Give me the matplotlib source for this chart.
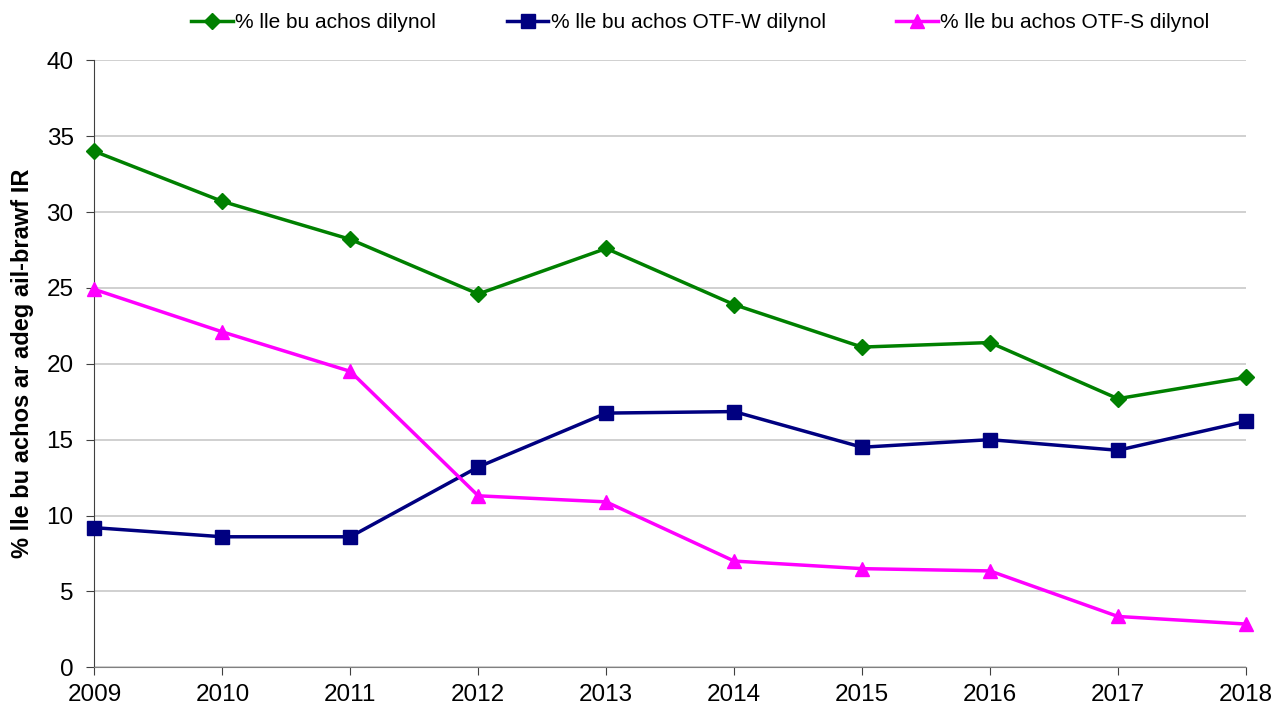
import numpy as np
import matplotlib as mpl
mpl.use('Agg')
import matplotlib.pyplot as plt

plt.rcParams['font.family'] = ['Liberation Sans', 'DejaVu Sans']

years = [2009, 2010, 2011, 2012, 2013, 2014, 2015, 2016, 2017, 2018]
all_pct = [34.0, 30.7, 28.2, 24.6, 27.6, 23.9, 21.1, 21.4, 17.7, 19.1]
otfw_pct = [9.2, 8.6, 8.6, 13.2, 16.75, 16.85, 14.5, 15.0, 14.3, 16.2]
otfs_pct = [24.9, 22.1, 19.5, 11.3, 10.9, 7.0, 6.5, 6.35, 3.35, 2.85]

labels = ["% lle bu achos dilynol",
          "% lle bu achos OTF-W dilynol",
          "% lle bu achos OTF-S dilynol"]

fig = plt.figure(figsize=(12.85, 7.05), dpi=100)
ax = fig.add_axes([0.0735, 0.0535, 0.896, 0.861])

ax.plot(years, all_pct, color='#008000', lw=2.5, marker='D', ms=8,
        label=labels[0], clip_on=False, zorder=3)
ax.plot(years, otfw_pct, color='#000080', lw=2.5, marker='s', ms=10.5,
        label=labels[1], clip_on=False, zorder=3)
ax.plot(years, otfs_pct, color='#FF00FF', lw=2.5, marker='^', ms=10,
        label=labels[2], clip_on=False, zorder=3)

ax.set_xlim(2009, 2018)
ax.set_ylim(0, 40)
ax.set_xticks(years)
ax.set_yticks(np.arange(0, 41, 5))
ax.yaxis.grid(True, color='#c8c8c8', lw=1.2)
ax.set_axisbelow(True)

for s in ['top', 'right']:
    ax.spines[s].set_visible(False)
ax.spines['left'].set_color('#404040')
ax.spines['bottom'].set_color('#808080')
ax.tick_params(axis='both', direction='out', length=6, labelsize=17.5,
               colors='#404040', labelcolor='black')
ax.tick_params(axis='x', pad=6)
ax.tick_params(axis='y', pad=9)

ax.set_ylabel("% lle bu achos ar adeg ail-brawf IR", fontsize=17,
              fontweight='bold', labelpad=9)

fig.legend(loc='center', bbox_to_anchor=(0.545, 0.968), ncol=3,
           frameon=False, fontsize=15, handlelength=2.0, handletextpad=0.1,
           columnspacing=3.4)

plt.savefig("out.png", dpi=100)
